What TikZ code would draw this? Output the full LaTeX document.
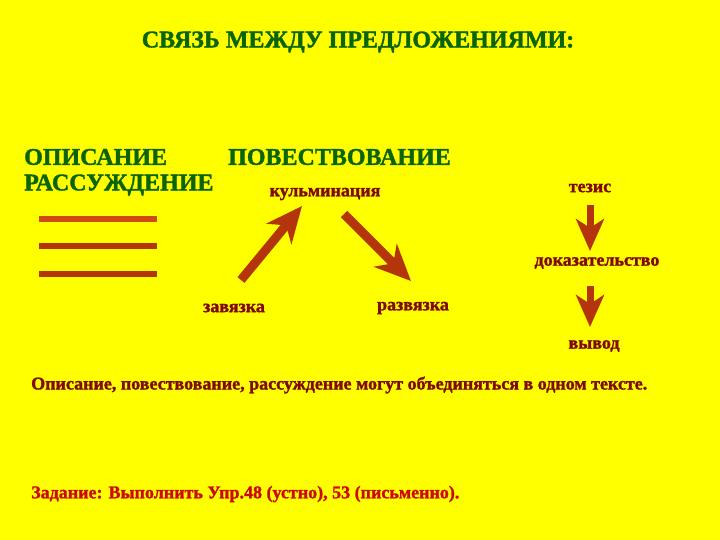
\documentclass[tikz,border=0pt]{standalone}
\usepackage{fontspec}
\setmainfont{Liberation Serif}[BoldFeatures={FakeBold=1.5}]
\usepackage{tikz}
\usetikzlibrary{arrows.meta, positioning, calc}

\definecolor{slideyellow}{RGB}{255,255,0}
\definecolor{headgreen}{RGB}{10,100,10}
\definecolor{labelred}{RGB}{128,10,10}
\definecolor{arrowred}{RGB}{180,52,12}
\definecolor{lineorange}{RGB}{208,72,20}
\definecolor{taskred}{RGB}{205,10,10}

\begin{document}
\begin{tikzpicture}[
    x=1pt, y=-1pt,
    heading/.style={text=headgreen, font=\fontsize{24}{28}\selectfont\bfseries, inner sep=0pt},
    label/.style={text=labelred, font=\fontsize{18}{21}\selectfont\bfseries, inner sep=0pt},
    bigarrow/.style={draw=arrowred, line width=9pt, -{Stealth[length=36pt, width=32pt, inset=11pt]}},
    downarrow/.style={draw=arrowred, line width=7pt, -{Stealth[length=32pt, width=28pt, inset=9pt]}},
    stripe/.style={line width=6pt}
]
\fill[slideyellow] (0,0) rectangle (720,540);
\useasboundingbox (0,0) rectangle (720,540);

% Headings
\node[heading] (title) at (358,42) {СВЯЗЬ МЕЖДУ ПРЕДЛОЖЕНИЯМИ:};
\node[heading, anchor=west] (opis) at (24,157) {ОПИСАНИЕ};
\node[heading, anchor=west] (povest) at (228,157) {ПОВЕСТВОВАНИЕ};
\node[heading, anchor=west] (rassuzh) at (24,185) {РАССУЖДЕНИЕ};

% Description stripes
\draw[stripe, lineorange] (39,219) -- (157,219);
\draw[stripe, arrowred] (39,246) -- (157,246);
\draw[stripe, arrowred] (39,274) -- (157,274);

% Narration
\node[label] (kulm) at (325,194) {кульминация};
\node[label] (zav) at (234,308) {завязка};
\node[label] (razv) at (413,308) {развязка};
\coordinate (zavtop) at (241,280);
\coordinate (kulmleft) at (302,206);
\coordinate (kulmright) at (344,214);
\coordinate (razvtop) at (411,281);

% Reasoning
\node[label] (tezis) at (590,188) {тезис};
\node[label] (dokaz) at (597,263) {доказательство};
\node[label] (vyvod) at (594,346) {вывод};

% Arrows
\draw[bigarrow] (zavtop) -- (kulmleft);
\draw[bigarrow] (kulmright) -- (razvtop);
\draw[downarrow, shorten <=12pt, shorten >=6pt] (tezis.south) -- (tezis.south |- dokaz.north);
\draw[downarrow, shorten <=17pt, shorten >=13pt] (tezis.south |- dokaz.south) -- (tezis.south |- vyvod.north);

% Bottom text
\node[label, anchor=west] (summary) at (31,385) {Описание, повествование, рассуждение могут объединяться в одном тексте.};
\node[label, anchor=west, text=taskred] (task) at (31,494) {Задание: Выполнить Упр.48 (устно), 53 (письменно).};
\end{tikzpicture}
\end{document}
